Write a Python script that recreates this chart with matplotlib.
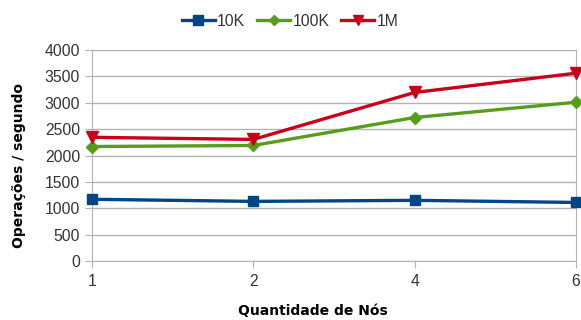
import matplotlib
matplotlib.use("Agg")
import matplotlib.pyplot as plt

nodes = ["1", "2", "4", "6"]
series_names = ["10K", "100K", "1M"]
ops_10k = [1170, 1130, 1150, 1110]
ops_100k = [2170, 2190, 2720, 3010]
ops_1m = [2345, 2305, 3195, 3560]
colors = ["#004586", "#579d1c", "#c9001a"]
markers = ["s", "D", "v"]
msizes = [7.5, 6, 8]

plt.rcParams["font.family"] = ["Liberation Sans", "DejaVu Sans"]

fig = plt.figure(figsize=(5.81, 3.2), dpi=100)
ax = fig.add_axes([92 / 581, 1 - 261 / 320, (576 - 92) / 581, (261 - 50) / 320])

xpos = list(range(len(nodes)))
for vals, name, c, m, ms in zip([ops_10k, ops_100k, ops_1m], series_names, colors, markers, msizes):
    ax.plot(xpos, vals, color=c, lw=2.4, marker=m, markersize=ms, label=name, clip_on=False, zorder=3)

ax.set_xlim(0, len(nodes) - 1)
ax.set_ylim(0, 4000)
ax.set_xticks(xpos)
ax.set_xticklabels(nodes)
ax.set_yticks(range(0, 4001, 500))
ax.yaxis.grid(True, color="#b3b3b3", lw=1)
ax.set_axisbelow(True)
for s in ax.spines.values():
    s.set_color("#b3b3b3")
ax.tick_params(axis="both", colors="#b3b3b3", labelcolor="#333333", labelsize=11.3, length=5)
ax.tick_params(axis="y", pad=3.5)
ax.tick_params(axis="x", pad=4)

fig.text(313 / 581, 1 - 311 / 320, "Quantidade de Nós", family="DejaVu Sans", fontweight="bold",
         fontsize=10, ha="center", va="center")
fig.text(19 / 581, 1 - 165 / 320, "Operações / segundo", family="DejaVu Sans", fontweight="bold",
         fontsize=10, ha="center", va="center", rotation=90)

leg = fig.legend(loc="center", bbox_to_anchor=(290 / 581, 1 - 21 / 320), ncol=3, frameon=False,
                 fontsize=11.3, handlelength=2.1, handletextpad=0.15, columnspacing=0.75,
                 markerscale=0.9)
for t in leg.get_texts():
    t.set_color("#333333")

fig.savefig("out.png", dpi=100)
